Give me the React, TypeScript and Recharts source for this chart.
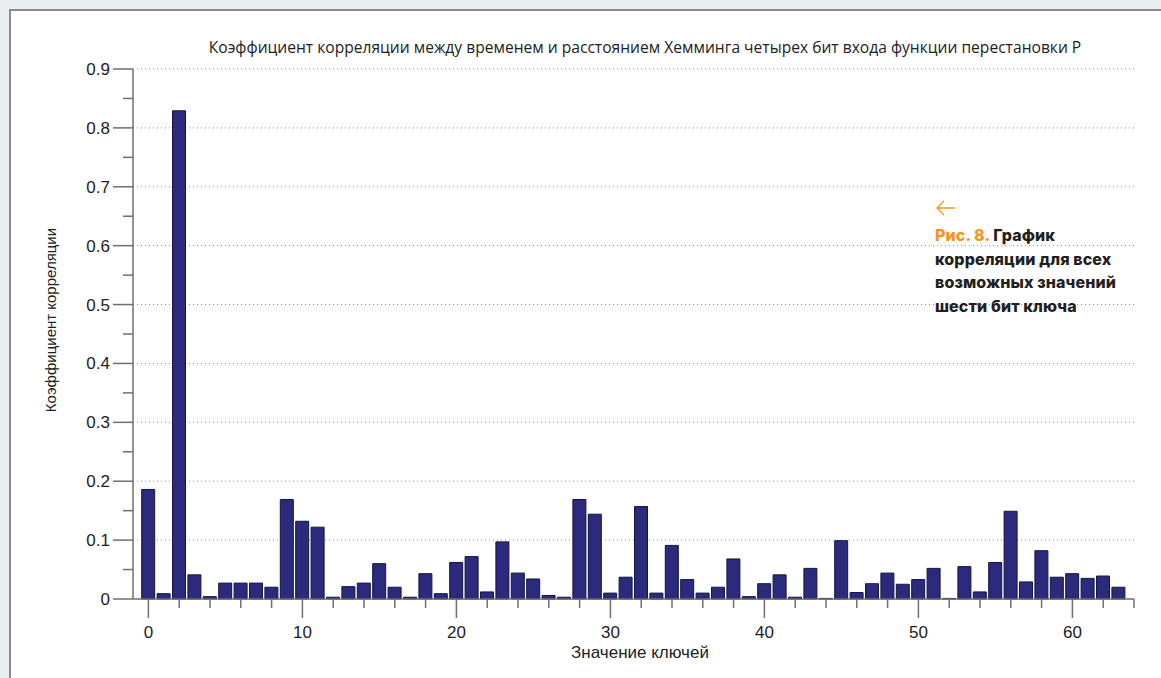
import React from "react";
import { BarChart, Bar, XAxis, YAxis, CartesianGrid } from "recharts";

// коэффициент корреляции для каждого из 64 значений ключа (0..63)
const CORRELATION = [
  0.186, 0.009, 0.829, 0.041, 0.004, 0.027, 0.027, 0.027,
  0.020, 0.169, 0.132, 0.122, 0.003, 0.021, 0.027, 0.060,
  0.020, 0.003, 0.043, 0.009, 0.062, 0.072, 0.012, 0.097,
  0.044, 0.034, 0.006, 0.003, 0.169, 0.144, 0.010, 0.037,
  0.157, 0.010, 0.091, 0.033, 0.010, 0.020, 0.068, 0.004,
  0.026, 0.041, 0.003, 0.052, 0.001, 0.099, 0.011, 0.026,
  0.044, 0.025, 0.033, 0.052, 0.001, 0.055, 0.012, 0.062,
  0.149, 0.029, 0.082, 0.037, 0.043, 0.035, 0.039, 0.020,
];

const X_TICKS = [0, 2, 4, 6, 8, 10, 12, 14, 16, 18, 20, 22, 24, 26, 28, 30, 32, 34, 36, 38, 40, 42, 44, 46, 48, 50, 52, 54, 56, 58, 60, 62, 64];
const X_LABELS = [0, 10, 20, 30, 40, 50, 60];
const Y_TICKS = [0, 0.05, 0.1, 0.15, 0.2, 0.25, 0.3, 0.35, 0.4, 0.45, 0.5, 0.55, 0.6, 0.65, 0.7, 0.75, 0.8, 0.85, 0.9];
const Y_GRID = [0.1, 0.2, 0.3, 0.4, 0.5, 0.6, 0.7, 0.8, 0.9];

const TITLE = "Коэффициент корреляции между временем и расстоянием Хемминга четырех бит входа функции перестановки P";
const X_TITLE = "Значение ключей";
const Y_TITLE = "Коэффициент корреляции";

const BAR_FILL = "#2b2a7c";
const BAR_STROKE = "#15153f";
const AXIS = "#6f6f6f";
const ORANGE = "#f7941d";
const FONT = "'Liberation Sans', Arial, sans-serif";

const data = CORRELATION.map((r, i) => ({ key: i, r }));

function XTick(props: any) {
  const { x, y, payload } = props;
  const v = payload.value;
  const major = X_LABELS.includes(v);
  return (
    <g>
      <line x1={x} y1={y} x2={x} y2={y + (major ? 19 : 9)} stroke={AXIS} strokeWidth={1.5} />
      {major && (
        <text x={x} y={y + 39} textAnchor="middle" fontSize={17} fill="#222" fontFamily={FONT}>
          {v}
        </text>
      )}
    </g>
  );
}

function YTick(props: any) {
  const { x, y, payload } = props;
  const v = payload.value;
  const major = Math.round(v * 100) % 10 === 0;
  return (
    <g>
      <line x1={x - (major ? 20 : 10)} y1={y} x2={x} y2={y} stroke={AXIS} strokeWidth={1.5} />
      {major && (
        <text x={x - 23} y={y + 6} textAnchor="end" fontSize={17} fill="#222" fontFamily={FONT}>
          {v === 0 ? "0" : v.toFixed(1)}
        </text>
      )}
    </g>
  );
}

export default function App() {
  return (
    <div style={{ position: "fixed", left: 0, top: 0, width: 1161, height: 678, background: "#e9eef1", overflow: "hidden" }}>
      <div
        style={{
          position: "absolute", left: 9, top: 9, width: 1170, height: 700, background: "#fff",
          borderLeft: "2px solid #8a8a8a", borderTop: "2px solid #8a8a8a",
        }}
      />
      <BarChart
        width={1161}
        height={678}
        data={data}
        margin={{ top: 69, right: 27, bottom: 19, left: 73 }}
        style={{ position: "absolute", left: 0, top: 0 }}
      >
        <CartesianGrid vertical={false} horizontalValues={Y_GRID} stroke="#8a8a8a" strokeDasharray="1 3" />
        <XAxis
          type="number"
          dataKey="key"
          domain={[-1, 64]}
          ticks={X_TICKS}
          interval={0}
          height={60}
          tickSize={0}
          tickMargin={0}
          tickLine={false}
          axisLine={{ stroke: AXIS, strokeWidth: 1.5 }}
          tick={<XTick />}
        />
        <YAxis
          type="number"
          domain={[0, 0.9]}
          ticks={Y_TICKS}
          interval={0}
          width={60}
          tickSize={0}
          tickMargin={0}
          tickLine={false}
          axisLine={{ stroke: AXIS, strokeWidth: 1.5 }}
          tick={<YTick />}
        />
        <Bar dataKey="r" fill={BAR_FILL} stroke={BAR_STROKE} strokeWidth={1} barSize={13} isAnimationActive={false} />
      </BarChart>

      <div style={{ position: "absolute", left: 0, width: 1290, top: 36, textAlign: "center", fontFamily: "'Open Sans', sans-serif", fontSize: 15.6, color: "#222", whiteSpace: "nowrap" }}>
        {TITLE}
      </div>
      <div style={{ position: "absolute", left: 440, width: 400, top: 643, textAlign: "center", fontFamily: "'Liberation Sans Narrow', 'Liberation Sans', sans-serif", fontSize: 17, color: "#222" }}>
        {X_TITLE}
      </div>
      <div
        style={{
          position: "absolute", left: 50, top: 320, transform: "translate(-50%, -50%) rotate(-90deg)",
          fontFamily: FONT, fontSize: 15, color: "#222", whiteSpace: "nowrap",
        }}
      >
        {Y_TITLE}
      </div>

      <svg style={{ position: "absolute", left: 935, top: 200 }} width={22} height={16}>
        <path d="M20 8 H2 M9 1 L2 8 L9 15" fill="none" stroke={ORANGE} strokeWidth={1.3} />
      </svg>
      <div
        style={{
          position: "absolute", left: 935, top: 224, width: 230, fontFamily: "Inter, sans-serif", fontWeight: 800,
          fontSize: 16, lineHeight: "23.5px", letterSpacing: 0.1, color: "#231f20",
        }}
      >
        <span style={{ color: ORANGE }}>Рис. 8.</span> График<br />
        корреляции для всех<br />
        возможных значений<br />
        шести бит ключа
      </div>
    </div>
  );
}
